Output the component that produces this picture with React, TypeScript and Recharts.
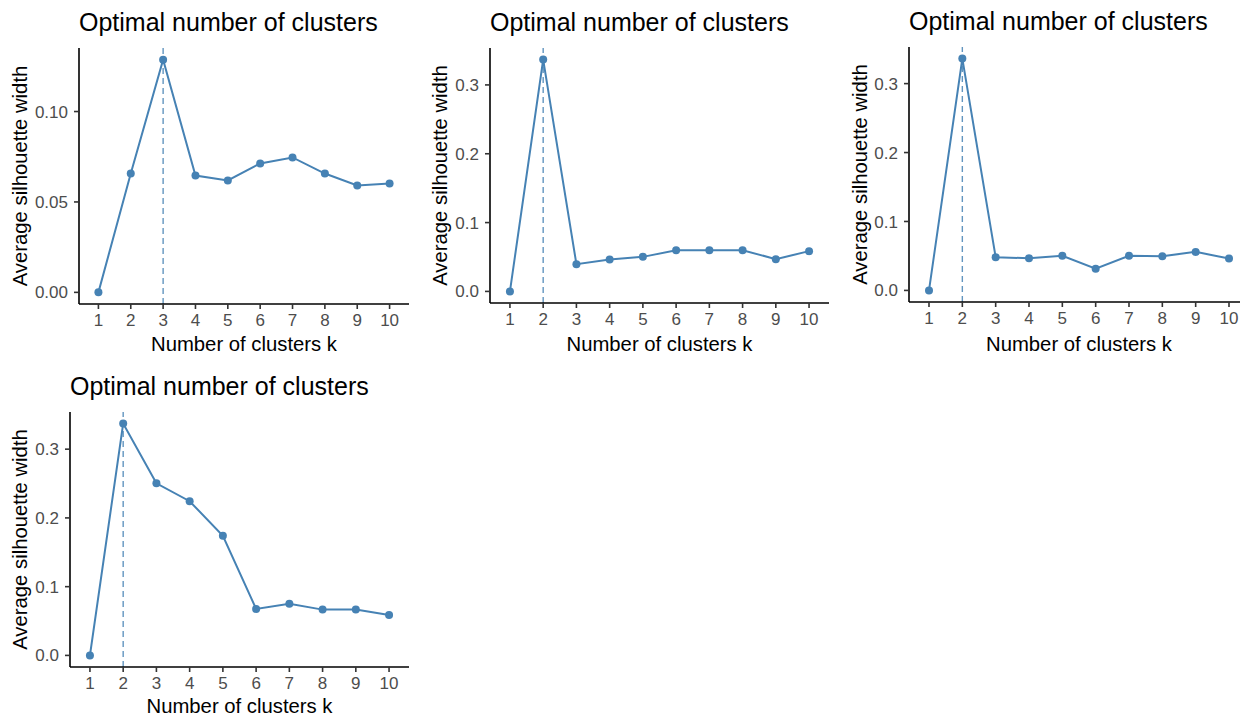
import { Label, Line, LineChart, ReferenceLine, XAxis, YAxis } from 'recharts';

const kValues = [1, 2, 3, 4, 5, 6, 7, 8, 9, 10];
const kTicks = [1, 2, 3, 4, 5, 6, 7, 8, 9, 10];

const silhouetteA = [0, 0.0657, 0.1287, 0.0646, 0.0619, 0.0713, 0.0746, 0.0657, 0.0591, 0.0602];
const silhouetteB = [0, 0.3368, 0.0396, 0.0463, 0.0502, 0.0599, 0.0599, 0.0599, 0.0469, 0.0585];
const silhouetteC = [0, 0.3363, 0.0482, 0.0467, 0.0501, 0.0314, 0.0501, 0.0496, 0.0559, 0.0462];
const silhouetteD = [0, 0.3372, 0.2504, 0.2243, 0.1741, 0.0676, 0.0753, 0.0666, 0.0666, 0.0589];

const ticksFine = [0, 0.05, 0.1];
const ticksCoarse = [0, 0.1, 0.2, 0.3];

const TITLE = 'Optimal number of clusters';
const X_TITLE = 'Number of clusters k';
const Y_TITLE = 'Average silhouette width';

const FONT = "'Liberation Sans', Arial, sans-serif";
const BLUE = '#4682B4';

interface PanelProps {
  values: number[];
  ticks: number[];
  digits: number;
  // page position of the panel box and of its plot area
  left: number;
  top: number;
  plotLeft: number;
  plotTop: number;
  plotRight: number;
  plotBottom: number;
}

function Panel({ values, ticks, digits, left, top, plotLeft, plotTop, plotRight, plotBottom }: PanelProps) {
  const width = 420;
  const height = 360;
  const data = kValues.map((k, i) => ({ k, value: values[i] }));
  const max = Math.max(...values);
  const best = kValues[values.indexOf(max)];
  // ggplot style 5% expansion
  const domain = [-0.05 * max, 1.05 * max];

  return (
    <div style={{ position: 'absolute', left, top, width, height }}>
      <div
        style={{
          position: 'absolute',
          left: plotLeft - left,
          top: plotTop - top - 38,
          fontFamily: FONT,
          fontSize: 25,
          lineHeight: '25px',
          color: '#000',
          whiteSpace: 'nowrap',
        }}
      >
        {TITLE}
      </div>
      <LineChart
        width={width}
        height={height}
        data={data}
        margin={{ top: plotTop - top, right: left + width - plotRight, bottom: 0, left: 0 }}
      >
        <XAxis
          dataKey="k"
          type="number"
          domain={[0.4, 10.6]}
          ticks={kTicks}
          allowDataOverflow
          height={top + height - plotBottom}
          axisLine={{ stroke: '#000', strokeWidth: 1.6 }}
          tickLine={{ stroke: '#333', strokeWidth: 1.6 }}
          tickSize={5}
          tickMargin={5}
          tick={{ fill: '#4D4D4D', fontSize: 17, fontFamily: FONT }}
        >
          <Label
            value={X_TITLE}
            position="insideBottom"
            offset={9}
            style={{ fontSize: 20.3, fontFamily: FONT, fill: '#000' }}
          />
        </XAxis>
        <YAxis
          type="number"
          domain={domain}
          ticks={ticks}
          allowDataOverflow
          width={plotLeft - left}
          axisLine={{ stroke: '#000', strokeWidth: 1.6 }}
          tickLine={{ stroke: '#333', strokeWidth: 1.6 }}
          tickSize={5}
          tickMargin={6}
          tickFormatter={(v: number) => v.toFixed(digits)}
          tick={{ fill: '#4D4D4D', fontSize: 17, fontFamily: FONT }}
        >
          <Label
            value={Y_TITLE}
            angle={-90}
            position="insideLeft"
            offset={20}
            style={{ fontSize: 20.3, fontFamily: FONT, fill: '#000', textAnchor: 'middle' }}
          />
        </YAxis>
        <ReferenceLine x={best} stroke={BLUE} strokeOpacity={0.85} strokeWidth={1.4} strokeDasharray="6 4" />
        <Line
          dataKey="value"
          type="linear"
          stroke={BLUE}
          strokeWidth={2}
          dot={{ r: 4, fill: BLUE, stroke: BLUE, strokeWidth: 0 }}
          activeDot={false}
          isAnimationActive={false}
        />
      </LineChart>
    </div>
  );
}

export default function App() {
  return (
    <div
      style={{
        position: 'fixed',
        left: 0,
        top: 0,
        width: 1240,
        height: 718,
        overflow: 'hidden',
        background: '#fff',
      }}
    >
      <Panel values={silhouetteA} ticks={ticksFine} digits={2} left={0} top={0}
        plotLeft={79} plotTop={48} plotRight={409} plotBottom={304} />
      <Panel values={silhouetteB} ticks={ticksCoarse} digits={1} left={420} top={0}
        plotLeft={490} plotTop={48} plotRight={829} plotBottom={303} />
      <Panel values={silhouetteC} ticks={ticksCoarse} digits={1} left={840} top={0}
        plotLeft={909} plotTop={47} plotRight={1249} plotBottom={302} />
      <Panel values={silhouetteD} ticks={ticksCoarse} digits={1} left={0} top={362}
        plotLeft={70} plotTop={412} plotRight={409} plotBottom={667} />
    </div>
  );
}
